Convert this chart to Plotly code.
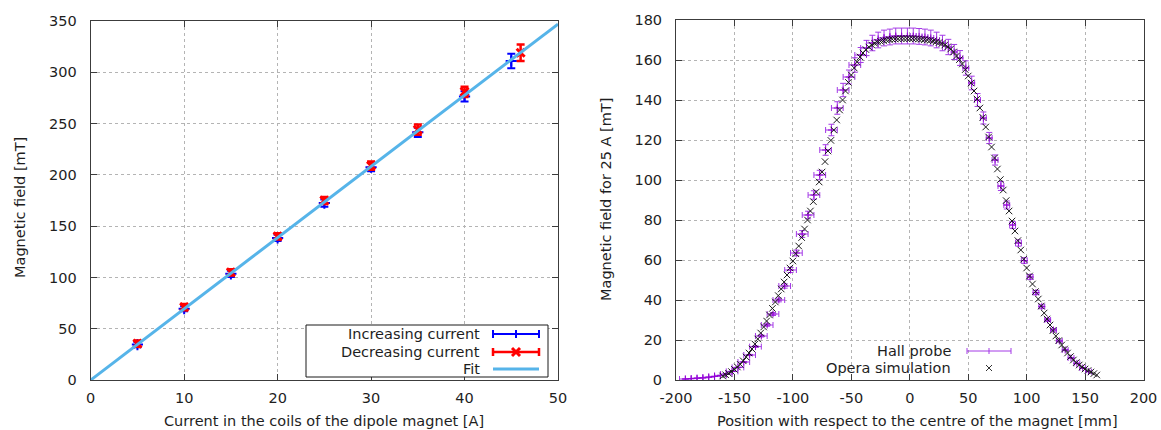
import plotly.graph_objects as go

W, H = 1161, 430

# ---------------- left panel data ----------------
inc_current = [5, 10, 15, 20, 25, 30, 35, 40, 45]
inc_field = [34.5, 69.5, 103.5, 138.5, 172.5, 207.5, 241.5, 276.5, 311.0]
inc_err = [2.5, 2.5, 3.0, 3.0, 3.5, 4.0, 4.5, 5.0, 7.0]

dec_current = [5, 10, 15, 20, 25, 30, 35, 40, 46]
dec_field = [35.5, 71.0, 105.0, 140.0, 175.0, 209.0, 244.0, 281.0, 319.0]
dec_err = [3.0, 3.0, 3.0, 3.0, 3.5, 4.0, 5.0, 5.0, 8.0]

fit_current = [0, 50]
fit_field = [0, 347]

# ---------------- right panel data ----------------
pos_ticks = [-200, -150, -100, -50, 0, 50, 100, 150, 200]
pos_tick_labels = ["-200", "-150", "-100", "-50", "0", "50", "100", "150", "200"]

hall_pos = [-192, -187, -182, -177, -172, -167, -162, -157, -152, -147,
            -142, -137, -132, -127, -122, -117, -112, -107, -102, -97,
            -92, -87, -82, -77, -72, -67, -62, -57, -52, -47,
            -42, -37, -32, -27, -22, -17, -12, -7, -2, 3,
            8, 13, 18, 23, 28, 33, 38, 43, 48, 53,
            58, 63, 68, 73, 78, 83, 88, 93, 98, 103,
            108, 113, 118, 123, 128, 133, 138, 143, 148, 153]
hall_field = [0.5, 0.7, 0.9, 1.1, 1.4, 1.8, 2.3, 3.0, 4.3, 6.3,
              9.0, 12.5, 16.7, 22.0, 27.5, 33.0, 40.0, 47.0, 55.0, 63.5,
              73.0, 82.5, 92.5, 102.5, 115.0, 125.0, 136.0, 145.0, 151.5, 157.5,
              162.5, 166.0, 168.5, 170.0, 171.0, 171.5, 172.0, 172.0, 172.0, 172.0,
              171.8, 171.5, 171.0, 170.0, 168.5, 166.5, 164.0, 161.0, 156.0, 148.5,
              140.0, 131.0, 121.0, 110.0, 97.0, 87.5, 77.5, 68.5, 59.7, 51.5,
              43.7, 36.7, 30.0, 25.0, 19.5, 15.0, 11.0, 8.3, 6.0, 4.2]
hall_pos_err = [5.0] * 39 + [2.5] * 31
hall_field_err_pct = 2.3

sim_pos = [-160, -157.5, -155, -152.5, -150, -147.5, -145, -142.5, -140, -137.5,
           -135, -132.5, -130, -127.5, -125, -122.5, -120, -117.5, -115, -112.5,
           -110, -107.5, -105, -102.5, -100, -97.5, -95, -92.5, -90, -87.5,
           -85, -82.5, -80, -77.5, -75, -72.5, -70, -67.5, -65, -62.5,
           -60, -57.5, -55, -52.5, -50, -47.5, -45, -42.5, -40, -37.5,
           -35, -32.5, -30, -27.5, -25, -22.5, -20, -17.5, -15, -12.5,
           -10, -7.5, -5, -2.5, 0, 2.5, 5, 7.5, 10, 12.5,
           15, 17.5, 20, 22.5, 25, 27.5, 30, 32.5, 35, 37.5,
           40, 42.5, 45, 47.5, 50, 52.5, 55, 57.5, 60, 62.5,
           65, 67.5, 70, 72.5, 75, 77.5, 80, 82.5, 85, 87.5,
           90, 92.5, 95, 97.5, 100, 102.5, 105, 107.5, 110, 112.5,
           115, 117.5, 120, 122.5, 125, 127.5, 130, 132.5, 135, 137.5,
           140, 142.5, 145, 147.5, 150, 152.5, 155, 157.5, 160]
sim_field = [2.0, 2.6, 3.3, 4.2, 5.3, 6.5, 7.8, 9.6, 11.5, 13.5,
             15.5, 18.0, 20.5, 23.5, 26.5, 29.5, 32.5, 35.8, 39.0, 42.2,
             45.5, 49.0, 52.5, 56.0, 59.5, 63.2, 67.0, 71.2, 75.5, 80.0,
             84.5, 89.2, 94.0, 99.0, 104.0, 109.2, 114.5, 119.8, 125.0, 130.0,
             135.0, 140.0, 144.5, 148.8, 152.5, 156.0, 159.0, 161.5, 163.5, 165.2,
             166.5, 167.5, 168.3, 168.9, 169.3, 169.7, 170.0, 170.2, 170.4, 170.5,
             170.6, 170.7, 170.7, 170.7, 170.7, 170.7, 170.6, 170.5, 170.4, 170.2,
             170.0, 169.8, 169.5, 169.1, 168.7, 168.2, 167.5, 166.6, 165.5, 164.0,
             162.0, 160.2, 158.0, 155.2, 152.0, 148.5, 144.5, 140.5, 136.0, 131.3,
             126.5, 121.5, 116.5, 111.0, 105.5, 100.2, 95.0, 89.7, 84.5, 79.5,
             74.5, 69.7, 65.0, 60.4, 56.0, 52.0, 48.0, 44.2, 40.5, 37.0,
             33.5, 30.5, 27.5, 24.7, 22.0, 19.7, 17.5, 15.5, 13.5, 11.7,
             10.0, 8.7, 7.5, 6.5, 5.5, 4.7, 4.0, 3.2, 2.5]

# ---------------- styling ----------------
FONT = "DejaVu Sans"
FS = 14.5
TXT = "#1e1e1e"
BLUE = "#0000ff"
RED = "#ff0000"
FITC = "#56b4e9"
PURP = "#9400d3"
PURP_BAR = "#a43ae6"


def px(x):
    return x / W


def py(y):
    return 1 - y / H


fig = go.Figure()

fig.add_trace(go.Scatter(
    x=inc_current, y=inc_field, mode="markers", xaxis="x", yaxis="y",
    marker=dict(symbol="cross-thin", size=8, color=BLUE, line=dict(color=BLUE, width=2)),
    error_y=dict(type="data", array=inc_err, color=BLUE, thickness=2, width=4),
    showlegend=False))
fig.add_trace(go.Scatter(
    x=dec_current, y=dec_field, mode="markers", xaxis="x", yaxis="y",
    marker=dict(symbol="x-thin", size=8, color=RED, line=dict(color=RED, width=3)),
    error_y=dict(type="data", array=dec_err, color=RED, thickness=2.5, width=4),
    showlegend=False))
fig.add_trace(go.Scatter(
    x=fit_current, y=fit_field, mode="lines", xaxis="x", yaxis="y",
    line=dict(color=FITC, width=3), showlegend=False))

fig.add_trace(go.Scatter(
    x=hall_pos, y=hall_field, mode="markers", xaxis="x2", yaxis="y2",
    marker=dict(symbol="cross-thin", size=5, color=PURP, line=dict(color=PURP, width=1)),
    error_y=dict(type="percent", value=hall_field_err_pct, color=PURP_BAR, thickness=1, width=3),
    error_x=dict(type="data", array=hall_pos_err, color=PURP_BAR, thickness=1, width=3),
    showlegend=False))
fig.add_trace(go.Scatter(
    x=sim_pos, y=sim_field, mode="markers", xaxis="x2", yaxis="y2",
    marker=dict(symbol="x-thin", size=6.5, color="#1a1a1a", line=dict(color="#1a1a1a", width=1)),
    showlegend=False))

axis_common = dict(
    showline=True, linecolor="#3c3c3c", linewidth=1, mirror="ticks",
    ticks="inside", ticklen=6, tickcolor="#3c3c3c", tickwidth=1,
    showgrid=True, gridcolor="#b4b4b4", griddash="dot", gridwidth=1,
    zeroline=False, automargin=False, tickfont=dict(family=FONT, size=FS, color=TXT),
)

fig.update_layout(
    width=W, height=H, autosize=False,
    margin=dict(l=0, r=0, t=0, b=0, pad=0, autoexpand=False),
    paper_bgcolor="white", plot_bgcolor="white",
    font=dict(family=FONT, size=FS, color=TXT),
    xaxis=dict(domain=[px(90.7), px(558)], range=[0, 50], dtick=10, anchor="y",
               ticklabelstandoff=5, **axis_common),
    yaxis=dict(domain=[py(380), py(21)], range=[0, 350], dtick=50, anchor="x",
               ticklabelstandoff=10, **axis_common),
    xaxis2=dict(domain=[px(676), px(1143.5)], range=[-200, 200], anchor="y2",
                tickmode="array", tickvals=pos_ticks, ticktext=pos_tick_labels,
                ticklabelstandoff=5, **axis_common),
    yaxis2=dict(domain=[py(380), py(20)], range=[0, 180], dtick=20, anchor="x2",
                ticklabelstandoff=10, **axis_common),
)

annotations = []


def text(s, x, y, xanchor="center", angle=0):
    annotations.append(dict(
        text=s, x=px(x), y=py(y), xref="paper", yref="paper",
        xanchor=xanchor, yanchor="middle", showarrow=False, textangle=angle,
        font=dict(family=FONT, size=FS, color=TXT)))


text("Current in the coils of the dipole magnet [A]", 324.4, 421)
text("Magnetic field [mT]", 20, 208, angle=-90)
text("Position with respect to the centre of the magnet [mm]", 917, 421)
text("Magnetic field for 25 A [mT]", 606, 200, angle=-90)

text("Increasing current", 482, 334, xanchor="right")
text("Decreasing current", 482, 352, xanchor="right")
text("Fit", 482, 369, xanchor="right")
text("Hall probe", 953, 351, xanchor="right")
text("Opera simulation", 953, 368, xanchor="right")

shapes = []


def seg(x0, y0, x1, y1, color, width):
    shapes.append(dict(type="line", xref="paper", yref="paper",
                       x0=px(x0), y0=py(y0), x1=px(x1), y1=py(y1),
                       line=dict(color=color, width=width)))


# left legend box
shapes.append(dict(type="rect", xref="paper", yref="paper",
                   x0=px(306), y0=py(377), x1=px(548), y1=py(325),
                   line=dict(color="#1a1a1a", width=1), fillcolor="white", layer="above"))
# increasing sample
seg(493, 334, 539, 334, BLUE, 2)
seg(493, 330, 493, 338, BLUE, 2)
seg(539, 330, 539, 338, BLUE, 2)
seg(516, 330, 516, 338, BLUE, 2)
# decreasing sample
seg(493, 352, 539, 352, RED, 2.5)
seg(493, 348, 493, 356, RED, 2.5)
seg(539, 348, 539, 356, RED, 2.5)
seg(512, 348, 520, 356, RED, 3)
seg(512, 356, 520, 348, RED, 3)
# fit sample
seg(493, 369, 539, 369, FITC, 3)
# hall sample
seg(967, 351, 1011, 351, PURP_BAR, 1)
seg(967, 348, 967, 354, PURP_BAR, 1)
seg(1011, 348, 1011, 354, PURP_BAR, 1)
seg(989, 348, 989, 354, PURP_BAR, 1)
# simulation sample
seg(986, 365, 992, 371, "#333333", 1)
seg(986, 371, 992, 365, "#333333", 1)

fig.update_layout(annotations=annotations, shapes=shapes)

fig.write_html(
    "out.html",
    config={"displayModeBar": False},
    post_script="document.body.style.margin='0';document.body.style.overflow='hidden';",
)
